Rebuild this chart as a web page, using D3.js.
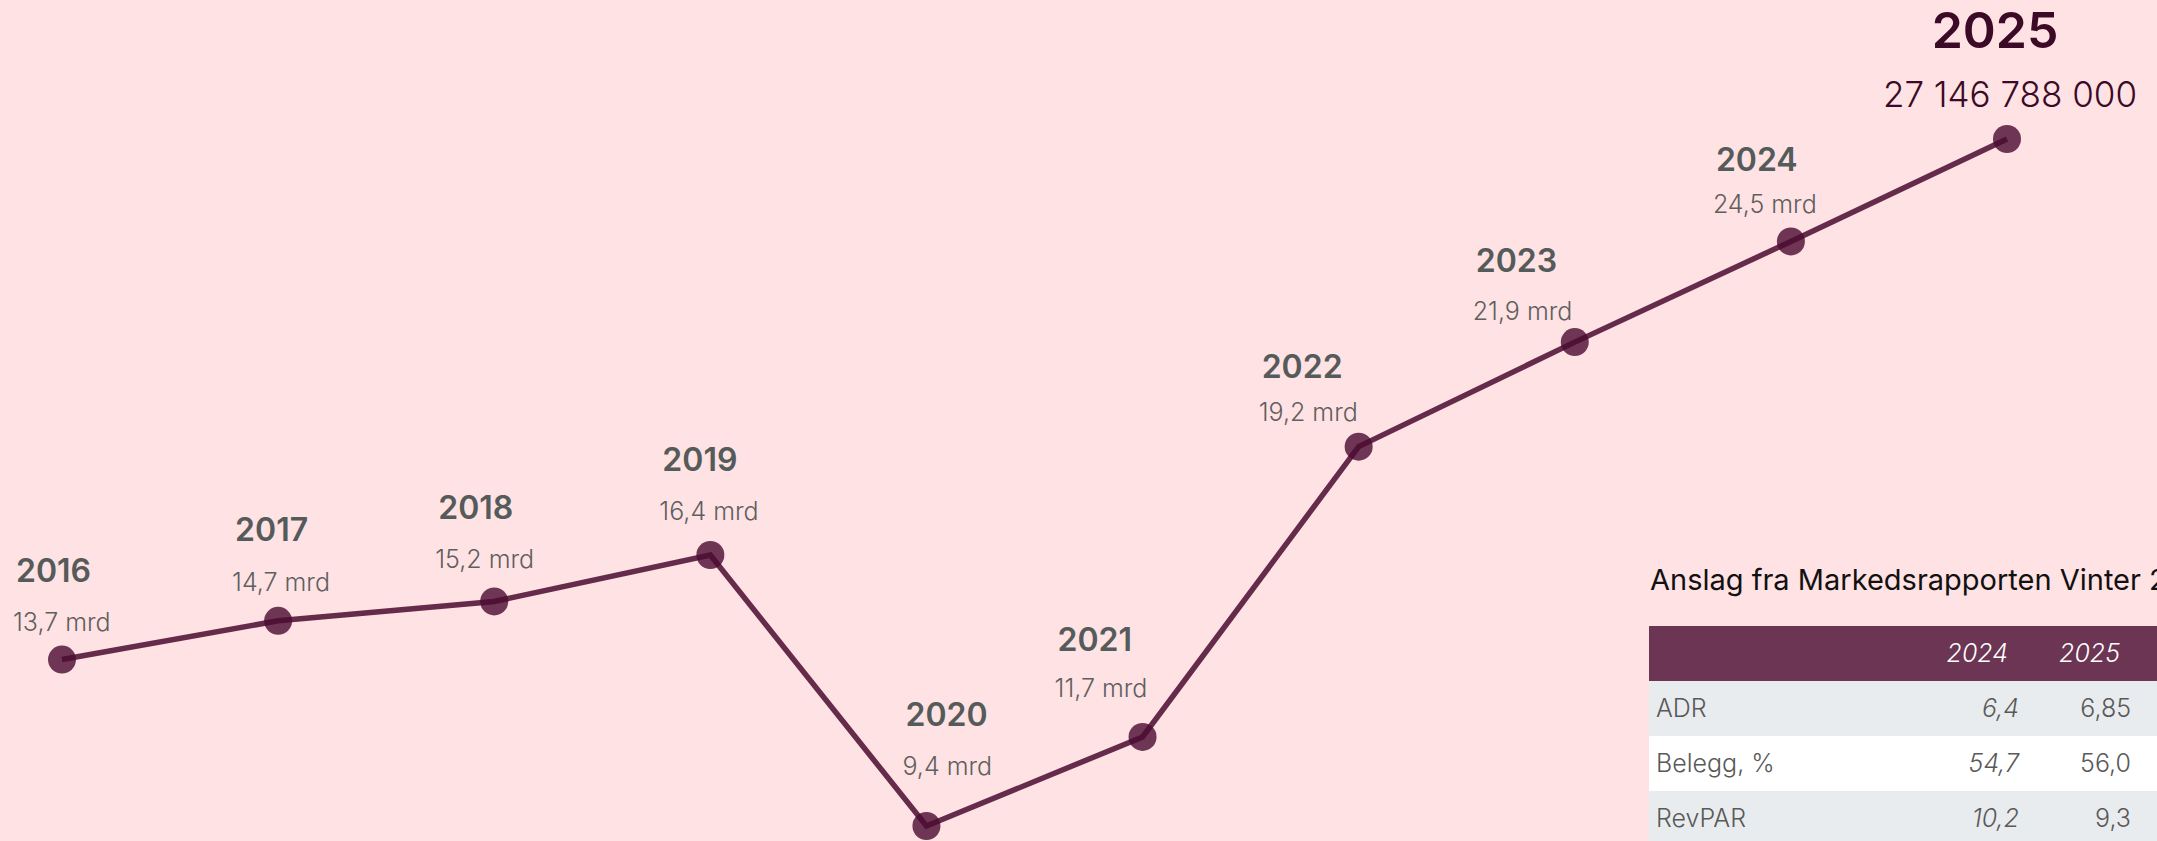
<!DOCTYPE html>
<html lang="no">
<head>
    <meta charset="UTF-8">
    <title>Omsetning hotell</title>
    <script src="https://d3js.org/d3.v7.min.js"></script>
    <style>
        body {
            margin: 0;
            background: #ffe2e3;
            overflow: hidden;
        }
        text {
            font-family: Inter, "Liberation Sans", sans-serif;
        }
        .year { font-weight: 600; fill: #555a5a; font-size: 32px; }
        .value { font-weight: 300; fill: #5f5f5f; font-size: 25px; }
        .year.last { fill: #3b0a26; font-size: 50px; }
        .value.last { fill: #3b0a26; font-size: 35px; font-weight: 300; }
        .tbl { font-size: 25px; font-weight: 300; fill: #595959; }
    </style>
</head>
<body>
<div id="chart"></div>

<script>
    // data
    var years = [2016, 2017, 2018, 2019, 2020, 2021, 2022, 2023, 2024, 2025];
    var revenue = [13.7, 14.7, 15.2, 16.4, 9.4, 11.7, 19.2, 21.9, 24.5, 27.146788];
    var valueLabels = ["13,7 mrd", "14,7 mrd", "15,2 mrd", "16,4 mrd", "9,4 mrd",
        "11,7 mrd", "19,2 mrd", "21,9 mrd", "24,5 mrd", "27 146 788 000"];

    var tableTitle = "Anslag fra Markedsrapporten Vinter 2025";
    var tableYears = ["2024", "2025", "2026"];
    var rowNames = ["ADR", "Belegg, %", "RevPAR"];
    var adr = ["6,4", "6,85", ""];
    var belegg = ["54,7", "56,0", ""];
    var revpar = ["10,2", "9,3", ""];

    // label nudges (px, relative to the point): left edge of label, baselines above point
    var labelDx = [-49, -46, -59, -51, -24, -88, -100, -102, -78, 0];
    var valueDy = [-29, -30, -33, -35, -51, -40, -26, -22, -28, -32];
    var yearDy = [-78, -80, -82, -84, -100, -86, -69, -70, -70, -91];

    var width = 2157, height = 841;

    var svg = d3.select("#chart")
        .append("svg")
        .attr("width", width)
        .attr("height", height);

    svg.append("rect")
        .attr("width", width)
        .attr("height", height)
        .attr("fill", "#ffe2e3");

    var data = years.map(function (y, i) {
        return {year: y, value: revenue[i], label: valueLabels[i], i: i};
    });

    var x = d3.scalePoint()
        .domain(years)
        .range([62, 2007]);

    var y = d3.scaleLinear()
        .domain([9.4, 27.146788])
        .range([826, 139]);

    // points first, line over them
    svg.append("g")
        .selectAll("circle")
        .data(data)
        .enter()
        .append("circle")
        .attr("cx", function (d) { return x(d.year); })
        .attr("cy", function (d) { return y(d.value); })
        .attr("r", 14)
        .attr("fill", "#4a0a30")
        .attr("fill-opacity", 0.8);

    svg.append("path")
        .datum(data)
        .attr("fill", "none")
        .attr("stroke", "#4a0a30")
        .attr("stroke-opacity", 0.85)
        .attr("stroke-width", 5.5)
        .attr("d", d3.line()
            .x(function (d) { return x(d.year); })
            .y(function (d) { return y(d.value); })
        );

    // labels
    var last = years.length - 1;
    var labels = svg.append("g")
        .selectAll("g")
        .data(data)
        .enter()
        .append("g");

    labels.append("text")
        .attr("class", function (d) { return d.i === last ? "year last" : "year"; })
        .attr("x", function (d) {
            return d.i === last ? x(d.year) - 12 : x(d.year) + labelDx[d.i] + 3;
        })
        .attr("y", function (d) { return y(d.value) + yearDy[d.i]; })
        .attr("text-anchor", function (d) { return d.i === last ? "middle" : "start"; })
        .text(function (d) { return d.year; });

    labels.append("text")
        .attr("class", function (d) { return d.i === last ? "value last" : "value"; })
        .attr("x", function (d) {
            return d.i === last ? x(d.year) + 3 : x(d.year) + labelDx[d.i];
        })
        .attr("y", function (d) { return y(d.value) + valueDy[d.i]; })
        .attr("text-anchor", function (d) { return d.i === last ? "middle" : "start"; })
        .text(function (d) { return d.label; });

    // forecast table
    var tLeft = 1649, tTop = 626, rowH = 55, headH = 55;
    var colRight = d3.scaleLinear().domain([0, 1]).range([2019, 2131]);
    var rows = [adr, belegg, revpar];

    var table = svg.append("g");

    table.append("text")
        .attr("x", tLeft + 1)
        .attr("y", 590)
        .style("font-size", "29px")
        .style("font-weight", 400)
        .attr("fill", "#111")
        .text(tableTitle);

    table.append("rect")
        .attr("x", tLeft)
        .attr("y", tTop)
        .attr("width", width - tLeft)
        .attr("height", headH)
        .attr("fill", "#6b3553");

    table.selectAll(".hd")
        .data(tableYears)
        .enter()
        .append("text")
        .attr("class", "hd")
        .attr("x", function (d, i) { return colRight(i) - 11; })
        .attr("y", tTop + headH / 2)
        .attr("dy", "0.35em")
        .attr("text-anchor", "end")
        .style("font-size", "25px")
        .style("font-style", "italic")
        .style("font-weight", 300)
        .attr("fill", "#fff")
        .text(function (d) { return d; });

    var rowG = table.selectAll(".row")
        .data(rows)
        .enter()
        .append("g")
        .attr("class", "row")
        .attr("transform", function (d, i) { return "translate(0," + (tTop + headH + i * rowH) + ")"; });

    rowG.append("rect")
        .attr("x", tLeft)
        .attr("width", width - tLeft)
        .attr("height", rowH)
        .attr("fill", function (d, i) { return i % 2 === 0 ? "#e9ecee" : "#ffffff"; });

    rowG.append("text")
        .attr("class", "tbl")
        .attr("x", tLeft + 7)
        .attr("y", rowH / 2)
        .attr("dy", "0.35em")
        .text(function (d, i) { return rowNames[i]; });

    rowG.selectAll(".cell")
        .data(function (d) { return d; })
        .enter()
        .append("text")
        .attr("class", "tbl cell")
        .attr("x", function (d, i) { return colRight(i); })
        .attr("y", rowH / 2)
        .attr("dy", "0.35em")
        .attr("text-anchor", "end")
        .style("font-style", function (d, i) { return i === 0 ? "italic" : "normal"; })
        .text(function (d) { return d; });
</script>
</body>
</html>
